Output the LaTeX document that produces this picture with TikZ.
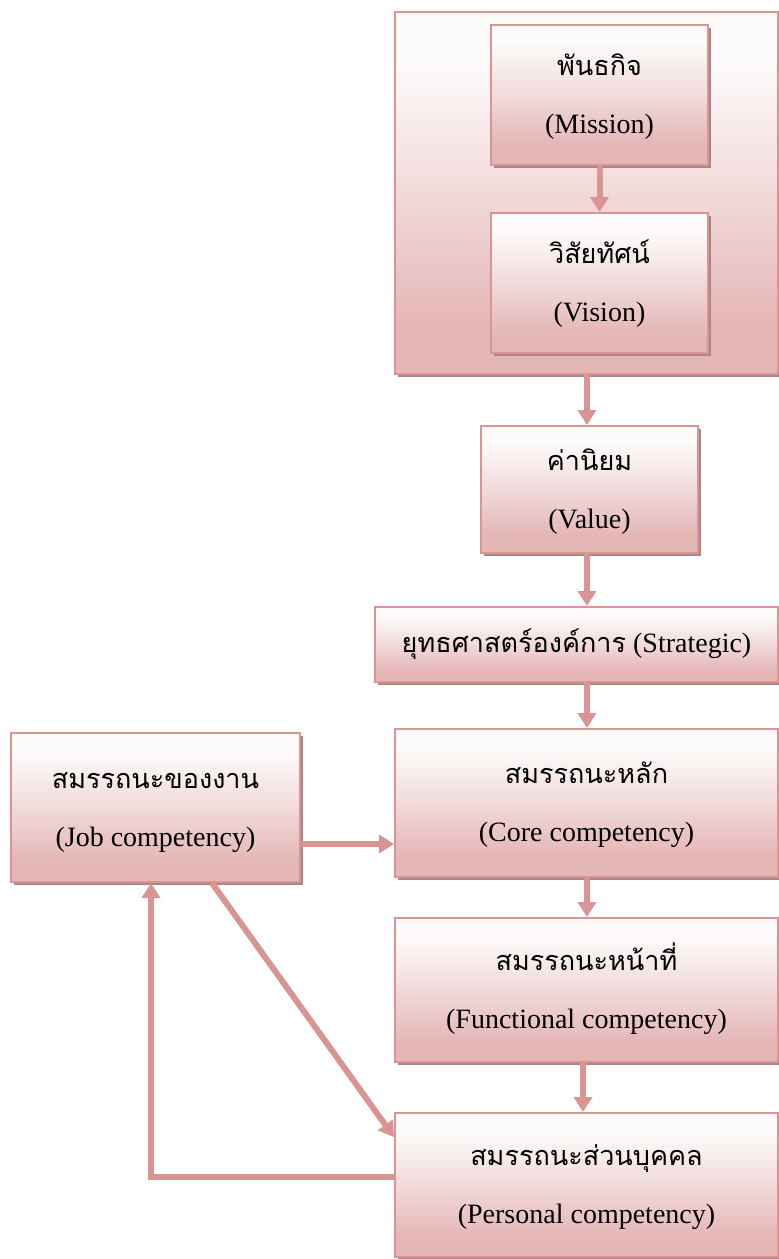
\documentclass[tikz,border=0pt]{standalone}
\usepackage{fontspec}
\setmainfont{Liberation Serif}
\newfontfamily\thaifont[Script=Thai]{Loma}
\usetikzlibrary{arrows.meta,shadows}

\definecolor{boxtop}{HTML}{FDFAFA}
\definecolor{boxmid}{HTML}{F1DADA}
\definecolor{boxbot}{HTML}{E5B6B6}
\definecolor{boxline}{HTML}{D99594}
\definecolor{boxshadow}{HTML}{AD8585}

% white at the top, fading into pale rose towards the bottom
\pgfdeclareverticalshading{boxshade}{100bp}{%
  color(0bp)=(boxbot); color(32bp)=(boxbot); color(50bp)=(boxmid);
  color(68bp)=(boxtop); color(100bp)=(boxtop)}

% Thai heading line with a fixed height, English line with a fixed depth,
% so every two-line label sits at the same place in its box
\newcommand\thtxt[1]{{\thaifont\fontsize{27}{58}\selectfont\smash{#1}\rule{0pt}{26pt}}}
\newcommand\entxt[1]{\rule[-7pt]{0pt}{7pt}#1}
\newcommand\thword[1]{{\thaifont\fontsize{27}{58}\selectfont #1}}

\tikzset{
  box/.style={rectangle, draw=boxline, line width=2pt, shading=boxshade,
    inner sep=0pt, align=center, font=\fontsize{28}{58}\selectfont,
    drop shadow={shadow xshift=3pt, shadow yshift=-3pt, fill=boxshadow, opacity=1}},
  arr/.style={draw=boxline, line width=6pt, -{Triangle[width=18pt,length=15pt]}},
}

\begin{document}
\begin{tikzpicture}[x=1pt,y=-1pt]
\useasboundingbox (0,0) rectangle (779,1259);

% spine positions for the vertical connectors
\coordinate (spine) at (587,0);
\coordinate (spinelow) at (583,0);
\coordinate (jobrow) at (0,844);
\coordinate (diagtop) at (212,0);
\coordinate (diagend) at (0,1137);
\coordinate (back) at (151,1177);

% grouping frame around mission and vision
\node[box, minimum width=383pt, minimum height=362pt] (frame) at (586.5,193) {};

\node[box, minimum width=217pt, minimum height=140pt] (mission) at (599.5,95)
  {\thtxt{พันธกิจ}\\\entxt{(Mission)}};
\node[box, minimum width=217pt, minimum height=140pt] (vision) at (599.5,283)
  {\thtxt{วิสัยทัศน์}\\\entxt{(Vision)}};
\node[box, minimum width=217pt, minimum height=127pt] (value) at (589.5,489.5)
  {\thtxt{ค่านิยม}\\\entxt{(Value)}};
\node[box, minimum width=403pt, minimum height=75pt] (strategic) at (576.5,644.5)
  {\thword{ยุทธศาสตร์องค์การ} (Strategic)};
\node[box, minimum width=383pt, minimum height=148pt] (core) at (586.5,803)
  {\thtxt{สมรรถนะหลัก}\\\entxt{(Core competency)}};
\node[box, minimum width=289pt, minimum height=149pt] (job) at (155.5,807.5)
  {\thtxt{สมรรถนะของงาน}\\\entxt{(Job competency)}};
\node[box, minimum width=383pt, minimum height=144pt] (functional) at (586.5,990)
  {\thtxt{สมรรถนะหน้าที่}\\\entxt{(Functional competency)}};
\node[box, minimum width=383pt, minimum height=144pt] (personal) at (586.5,1185)
  {\thtxt{สมรรถนะส่วนบุคคล}\\\entxt{(Personal competency)}};

% connectors
\draw[arr] (mission.south) -- (vision.north);
\draw[arr] (frame.south -| spine) -- (value.north -| spine);
\draw[arr] (value.south -| spine) -- (strategic.north -| spine);
\draw[arr] (strategic.south -| spine) -- (core.north -| spine);
\draw[arr] (core.south -| spine) -- (functional.north -| spine);
\draw[arr] (functional.south -| spinelow) -- (personal.north -| spinelow);
\draw[arr] (job.east |- jobrow) -- (core.west |- jobrow);
\draw[arr] (job.south -| diagtop) -- (personal.west |- diagend);
\draw[arr] (personal.west |- back) -| (job.south -| back);
\end{tikzpicture}
\end{document}
